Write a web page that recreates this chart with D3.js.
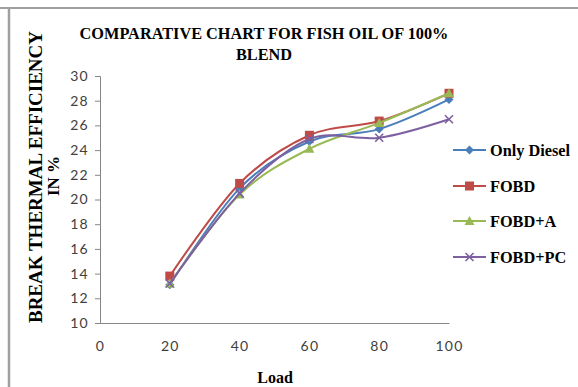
<!DOCTYPE html>
<html>
<head>
<meta charset="utf-8">
<script src="https://cdn.jsdelivr.net/npm/d3@7"></script>
<style>
  html, body { margin: 0; padding: 0; background: #fff; }
  svg { display: block; }
</style>
</head>
<body>
<svg id="chart" width="578" height="387"></svg>
<script>
// Break thermal efficiency (%) against load for a 100% fish oil blend
const loads = [20, 40, 60, 80, 100];
const onlyDiesel = [13.1, 20.9, 24.7, 25.7, 28.1];
const fobd = [13.8, 21.3, 25.2, 26.35, 28.6];
const fobdA = [13.2, 20.4, 24.1, 26.2, 28.6];
const fobdPC = [13.2, 20.5, 24.9, 25.0, 26.5];
const seriesNames = ["Only Diesel", "FOBD", "FOBD+A", "FOBD+PC"];
const seriesColors = ["#4A7EBB", "#BE4B48", "#98B954", "#7D60A0"];
const seriesMarkers = ["diamond", "square", "triangle", "cross"];
const xTicks = [0, 20, 40, 60, 80, 100];
const yTicks = [10, 12, 14, 16, 18, 20, 22, 24, 26, 28, 30];

const seriesValues = [onlyDiesel, fobd, fobdA, fobdPC];
const series = seriesNames.map((name, i) => ({
  name,
  color: seriesColors[i],
  marker: seriesMarkers[i],
  points: loads.map((x, j) => ({ x, y: seriesValues[i][j] }))
}));

const svg = d3.select("#chart");
const serif = "'Liberation Serif', 'Times New Roman', serif";
const sans = "Lato, 'Liberation Sans', sans-serif";

// outer frame edges
svg.append("line").attr("x1", 0).attr("x2", 578).attr("y1", 8).attr("y2", 8)
  .attr("stroke", "#a0a0a0").attr("stroke-width", 2);
svg.append("line").attr("x1", 9).attr("x2", 9).attr("y1", 8).attr("y2", 387)
  .attr("stroke", "#a0a0a0").attr("stroke-width", 2.5);

const plot = { left: 100, right: 449, top: 76, bottom: 323 };
const x = d3.scaleLinear().domain([0, 100]).range([plot.left, plot.right]);
const y = d3.scaleLinear().domain([10, 30]).range([plot.bottom, plot.top]);

// title
const title = svg.append("text")
  .attr("x", 264).attr("y", 39)
  .attr("text-anchor", "middle")
  .attr("font-family", serif).attr("font-weight", "bold").attr("font-size", 16.3)
  .attr("fill", "#000");
title.append("tspan").attr("x", 264).attr("dy", 0).text("COMPARATIVE CHART FOR FISH OIL OF 100%");
title.append("tspan").attr("x", 264).attr("dy", 21).text("BLEND");

// y axis
const yAxis = d3.axisLeft(y).tickValues(yTicks).tickSize(5).tickPadding(6).tickFormat(d3.format("d"));
const gy = svg.append("g").attr("transform", `translate(${plot.left},0)`).call(yAxis);
gy.select(".domain").attr("stroke", "#868686");
gy.selectAll(".tick line").attr("stroke", "#868686");
gy.selectAll(".tick text").attr("font-family", sans).attr("font-size", 14)
  .attr("letter-spacing", 1.3).attr("fill", "#404040");

// x axis
const xAxis = d3.axisBottom(x).tickValues(xTicks).tickSize(0).tickPadding(18);
const gx = svg.append("g").attr("transform", `translate(0,${plot.bottom})`).call(xAxis);
gx.select(".domain").attr("stroke", "#868686");
gx.selectAll(".tick text").attr("font-family", sans).attr("font-size", 14)
  .attr("letter-spacing", 1.3).attr("fill", "#404040");

// axis titles
svg.append("text")
  .attr("transform", "translate(42,177) rotate(-90)")
  .attr("text-anchor", "middle")
  .attr("font-family", serif).attr("font-weight", "bold").attr("font-size", 19)
  .text("BREAK THERMAL EFFICIENCY");
svg.append("text")
  .attr("transform", "translate(59,176) rotate(-90)")
  .attr("text-anchor", "middle")
  .attr("font-family", serif).attr("font-weight", "bold").attr("font-size", 17)
  .text("IN %");
svg.append("text")
  .attr("x", 275).attr("y", 383)
  .attr("text-anchor", "middle")
  .attr("font-family", serif).attr("font-weight", "bold").attr("font-size", 16)
  .text("Load");

// marker drawing
function drawMarker(g, kind, color) {
  if (kind === "diamond") {
    g.append("path").attr("d", "M0,-4.5L4.5,0L0,4.5L-4.5,0Z").attr("fill", color);
  } else if (kind === "square") {
    g.append("rect").attr("x", -4.5).attr("y", -4.5).attr("width", 9).attr("height", 9).attr("fill", color);
  } else if (kind === "triangle") {
    g.append("path").attr("d", "M0,-5L5,4L-5,4Z").attr("fill", color);
  } else {
    g.append("path").attr("d", "M-4,-4L4,4M-4,4L4,-4").attr("stroke", color).attr("stroke-width", 1.6).attr("fill", "none");
  }
}

const line = d3.line()
  .x(d => x(d.x)).y(d => y(d.y))
  .curve(d3.curveCardinal.tension(0));

series.forEach(s => {
  const g = svg.append("g");
  g.append("path").datum(s.points)
    .attr("d", line)
    .attr("fill", "none")
    .attr("stroke", s.color)
    .attr("stroke-width", 2);
  s.points.forEach(p => {
    const m = g.append("g").attr("transform", `translate(${x(p.x)},${y(p.y)})`);
    drawMarker(m, s.marker, s.color);
  });
});

// legend
const legendY = [150, 186, 221, 257];
series.forEach((s, i) => {
  const g = svg.append("g").attr("transform", `translate(453,${legendY[i]})`);
  g.append("line").attr("x1", 0).attr("x2", 33).attr("y1", 0).attr("y2", 0)
    .attr("stroke", s.color).attr("stroke-width", 2);
  const m = g.append("g").attr("transform", "translate(16.5,0)");
  drawMarker(m, s.marker, s.color);
  g.append("text").attr("x", 37).attr("y", 5.5)
    .attr("font-family", serif).attr("font-weight", "bold").attr("font-size", 16.3)
    .text(s.name);
});
</script>
</body>
</html>
